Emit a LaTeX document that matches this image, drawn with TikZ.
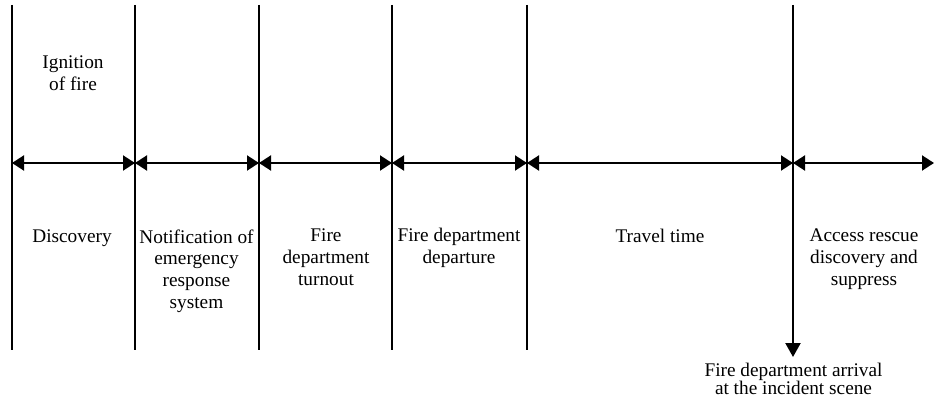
\documentclass[tikz,border=0pt]{standalone}
\usepackage{fontspec}
\setmainfont{Liberation Serif}
\usetikzlibrary{arrows.meta}

\begin{document}
\begin{tikzpicture}[x=1pt,y=-1pt,
	bar/.style={line width=2.2pt},
	span/.style={line width=2pt,{Triangle[length=12pt,width=15pt]}-{Triangle[length=12pt,width=15pt]}},
	lab/.style={align=center,inner sep=0pt,font=\fontsize{19.3}{21.8}\selectfont}]
	\useasboundingbox (0,0) rectangle (935,406);
	\coordinate (t1) at (12,5);  \coordinate (m1) at (12,163);  \coordinate (b1) at (12,350);
	\coordinate (t2) at (135,5); \coordinate (m2) at (135,163); \coordinate (b2) at (135,350);
	\coordinate (t3) at (259,5); \coordinate (m3) at (259,163); \coordinate (b3) at (259,350);
	\coordinate (t4) at (392,5); \coordinate (m4) at (392,163); \coordinate (b4) at (392,350);
	\coordinate (t5) at (527,5); \coordinate (m5) at (527,163); \coordinate (b5) at (527,350);
	\coordinate (t6) at (793,5); \coordinate (m6) at (793,163); \coordinate (b6) at (793,357);
	\coordinate (m7) at (934,163);
	\draw[bar] (t1) -- (b1);
	\draw[bar] (t2) -- (b2);
	\draw[bar] (t3) -- (b3);
	\draw[bar] (t4) -- (b4);
	\draw[bar] (t5) -- (b5);
	\draw[bar,-{Triangle[length=14pt,width=15pt]}] (t6) -- (b6);
	\draw[span] (m1) -- (m2);
	\draw[span] (m2) -- (m3);
	\draw[span] (m3) -- (m4);
	\draw[span] (m4) -- (m5);
	\draw[span] (m5) -- (m6);
	\draw[span] (m6) -- (m7);
	\node[lab] (ignition) at (73,73) {Ignition\\of fire};
	\node[lab] (discovery) at (72,238) {Discovery};
	\node[lab] (notify) at (196.5,271) {Notification of\\emergency\\response\\system};
	\node[lab] (turnout) at (326,257) {Fire\\department\\turnout};
	\node[lab] (departure) at (459,248) {Fire department\\departure};
	\node[lab] (travel) at (660,236) {Travel time};
	\node[lab] (access) at (864,259) {Access rescue\\discovery and\\suppress};
	\node[lab,font=\fontsize{19.3}{18}\selectfont] (arrival) at (793.5,379) {Fire department arrival\\at the incident scene};
\end{tikzpicture}
\end{document}
